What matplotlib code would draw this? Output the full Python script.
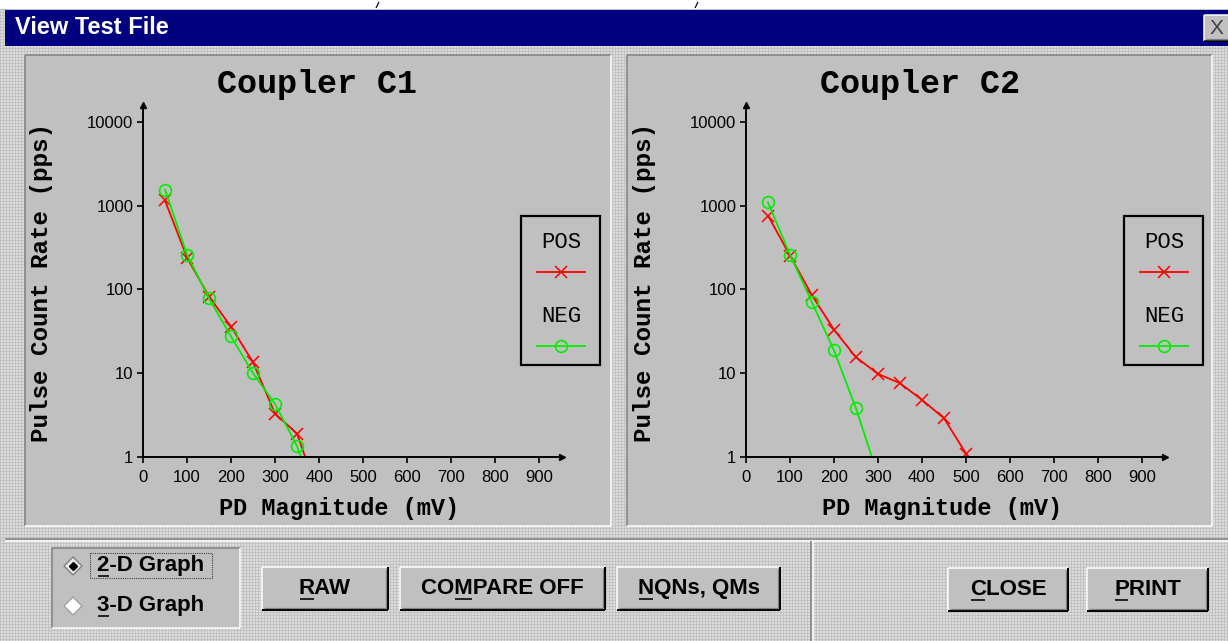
import numpy as np
import matplotlib.pyplot as plt
from matplotlib.patches import Rectangle, Polygon
from matplotlib.ticker import NullLocator

W, H = 1228, 641

# ── data ─────────────────────────────────────────────────────────
pd_mv_c1 = [50, 100, 150, 200, 250, 300, 350, 400]
c1_pos = [1150, 240, 82, 36, 13.5, 3.3, 1.9, 0.34]
c1_neg = [1550, 260, 78, 27.5, 10, 4.3, 1.35, 0.26]

pd_mv_c2_pos = [50, 100, 150, 200, 250, 300, 350, 400, 450, 500, 550]
c2_pos = [760, 253, 85, 33, 15.5, 9.8, 7.6, 4.8, 2.9, 1.1, 0.5]
pd_mv_c2_neg = [50, 100, 150, 200, 250, 300]
c2_neg = [1090, 260, 70, 18.7, 3.8, 0.6]

x_ticks = [0, 100, 200, 300, 400, 500, 600, 700, 800, 900]
y_ticks = [1, 10, 100, 1000, 10000]
y_tick_labels = ["1", "10", "100", "1000", "10000"]

DITHER = "#D0D0D0"
FACE = "#C0C0C0"
SANS = ["Liberation Sans", "DejaVu Sans"]
MONO = ["Liberation Mono", "DejaVu Sans Mono"]

fig = plt.figure(figsize=(W / 100, H / 100), dpi=100, facecolor=DITHER)
bg = fig.add_axes([0, 0, 1, 1])
bg.set_xlim(0, W)
bg.set_ylim(H, 0)
bg.axis("off")
bg.set_zorder(0)

# dotted dialog texture (light dots on grey grid)
yy, xx = np.mgrid[0:H, 0:W]
tex = np.where((xx % 3 != 0) & (yy % 3 != 0), 0.86, 0.76)
bg.imshow(tex, cmap="gray", vmin=0, vmax=1, extent=(0, W, H, 0),
          interpolation="nearest", aspect="auto", zorder=-5)


def line(xs, ys, c, lw=1.0):
    bg.plot(xs, ys, color=c, lw=lw * 0.72, solid_capstyle="butt")


def bevel(x0, y0, x1, y1, raised=True, face=FACE, thick=False):
    if face:
        bg.add_patch(Rectangle((x0, y0), x1 - x0, y1 - y0, fc=face, ec="none"))
    tl = "white" if raised else "#808080"
    br = "black" if raised else "white"
    line([x0, x1], [y0, y0], tl, 1.5)
    line([x0, x0], [y0, y1], tl, 1.5)
    line([x0, x1], [y1, y1], br, 2 if thick else 1.5)
    line([x1, x1], [y0, y1], br, 2 if thick else 1.5)
    if raised:
        line([x0 + 2, x1 - 2], [y1 - 2, y1 - 2], "#808080", 1.2)
        line([x1 - 2, x1 - 2], [y0 + 2, y1 - 2], "#808080", 1.2)


def label_u(x, y, s, idx, **kw):
    # text with one underlined (accelerator) character
    t = bg.text(x, y, s, ha="center", va="center", **kw)
    r = fig.canvas.get_renderer()
    left = t.get_window_extent(r).x0

    def w(sub):
        if not sub:
            return 0
        tt = bg.text(0, 0, sub, **kw)
        ww = tt.get_window_extent(r).width
        tt.remove()
        return ww

    xa, xb = left + w(s[:idx]), left + w(s[:idx + 1])
    line([xa + 1, xb - 1], [y + 10, y + 10], "black", 1.6)


# ── window chrome ────────────────────────────────────────────────
bg.add_patch(Rectangle((0, 0), W, 9, fc="white", ec="none"))
line([376, 379], [8, 2], "black", 1.2)
line([695, 698], [8, 2], "black", 1.2)
bg.add_patch(Rectangle((5, 10), W - 5, 36, fc="#000080", ec="none"))
bg.text(15, 28, "View Test File", color="white", fontsize=17,
        fontweight="bold", family=SANS, ha="left", va="center")
bevel(1204, 15, 1232, 41)
bg.text(1216, 29, "X", color="#404040", fontsize=15, family=SANS,
        ha="center", va="center")

# graph panels (sunken)
bevel(25, 55, 611, 526, raised=False)
bevel(627, 55, 1212, 526, raised=False)

# separators
line([5, W], [539, 539], "#808080", 1.5)
line([5, W], [541, 541], "white", 1.5)
line([811, 811], [541, H], "#808080", 1.5)
line([813, 813], [541, H], "white", 1.5)

# radio group
bevel(52, 548, 240, 628, raised=False)
d = 9
bg.add_patch(Polygon([[73 - d, 566], [73, 566 - d], [73 + d, 566], [73, 566 + d]],
                     closed=True, fc="#E8E8E8", ec="#808080", lw=1))
bg.plot(73, 566, "D", color="black", ms=4)
bg.add_patch(Polygon([[73 - d, 606], [73, 606 - d], [73 + d, 606], [73, 606 + d]],
                     closed=True, fc="white", ec="#A0A0A0", lw=1))
bg.add_patch(Rectangle((90, 553), 122, 25, fc="none", ec="#404040",
                       lw=0.8, ls=(0, (1, 1))))
btn_font = dict(fontsize=16, fontweight="bold", family=SANS, color="black")
label_u(151, 566, "2-D Graph", 0, **btn_font)
label_u(151, 606, "3-D Graph", 0, **btn_font)

# buttons
for (x0, x1, y0, y1), txt, ui in [((262, 388, 567, 610), "RAW", 0),
                                   ((400, 605, 567, 610), "COMPARE OFF", 2),
                                   ((617, 780, 567, 610), "NQNs, QMs", 0),
                                   ((948, 1068, 568, 611), "CLOSE", 0),
                                   ((1087, 1208, 568, 611), "PRINT", 0)]:
    bevel(x0, y0, x1, y1, thick=True)
    label_u((x0 + x1) / 2, (y0 + y1) / 2, txt, ui, **btn_font)


# ── the two graphs ───────────────────────────────────────────────
def make_graph(x_origin, title, mv_pos, pos, mv_neg, neg):
    ax = fig.add_axes([x_origin / W, 1 - 457 / H, 419 / W, 352 / H])
    ax.set_facecolor("none")
    ax.set_zorder(2)
    ax.set_yscale("log")
    ax.set_xlim(0, 419 / 0.44)
    ax.set_ylim(1, 10 ** 4.2)
    for s in ("top", "right"):
        ax.spines[s].set_visible(False)
    for s in ("left", "bottom"):
        ax.spines[s].set_linewidth(1.4)
        ax.spines[s].set_color("black")
    ax.set_xticks(x_ticks)
    ax.set_yticks(y_ticks, y_tick_labels)
    ax.yaxis.set_minor_locator(NullLocator())
    ax.tick_params(length=4, width=1.2, labelsize=12, colors="black")
    ax.tick_params(axis="x", pad=5)
    ax.tick_params(axis="y", pad=3)
    for lab in ax.get_xticklabels() + ax.get_yticklabels():
        lab.set_family(SANS)
    ax.plot(1, 0, ">", color="black", ms=4, transform=ax.transAxes, clip_on=False)
    ax.plot(0, 1, "^", color="black", ms=4, transform=ax.transAxes, clip_on=False)

    ax.plot(mv_pos, pos, color="#FF0000", lw=1.3, marker="x", ms=9, mew=1.1)
    ax.plot(mv_neg, neg, color="#00EE00", lw=1.3, marker="o", ms=8.5,
            mfc="none", mew=1.2)

    bg.text(x_origin + 174, 84, title, fontsize=24, fontweight="bold",
            family=MONO, ha="center", va="center")
    bg.text(x_origin + 196, 509, "PD Magnitude (mV)", fontsize=17,
            fontweight="bold", family=MONO, ha="center", va="center")
    bg.text(x_origin - 101, 282, "Pulse Count Rate (pps)", fontsize=17.5,
            fontweight="bold", family=MONO, ha="center", va="center",
            rotation=90)

    # legend box
    lx0 = x_origin + 378
    bg.add_patch(Rectangle((lx0, 216), 79, 149, fc="none", ec="black", lw=1.6))
    cx = lx0 + 40
    bg.text(cx, 243, "POS", fontsize=16, family=MONO, ha="center", va="center")
    bg.plot([cx - 24, cx + 24], [272, 272], color="#FF0000", lw=1.3)
    bg.plot(cx, 272, "x", color="#FF0000", ms=9, mew=1.1)
    bg.text(cx, 317, "NEG", fontsize=16, family=MONO, ha="center", va="center")
    bg.plot([cx - 24, cx + 24], [346, 346], color="#00EE00", lw=1.3)
    bg.plot(cx, 346, "o", color="#00EE00", ms=8.5, mfc="none", mew=1.2)


make_graph(143, "Coupler C1", pd_mv_c1, c1_pos, pd_mv_c1, c1_neg)
make_graph(746, "Coupler C2", pd_mv_c2_pos, c2_pos, pd_mv_c2_neg, c2_neg)

fig.savefig("out.png", dpi=100, facecolor=DITHER)
